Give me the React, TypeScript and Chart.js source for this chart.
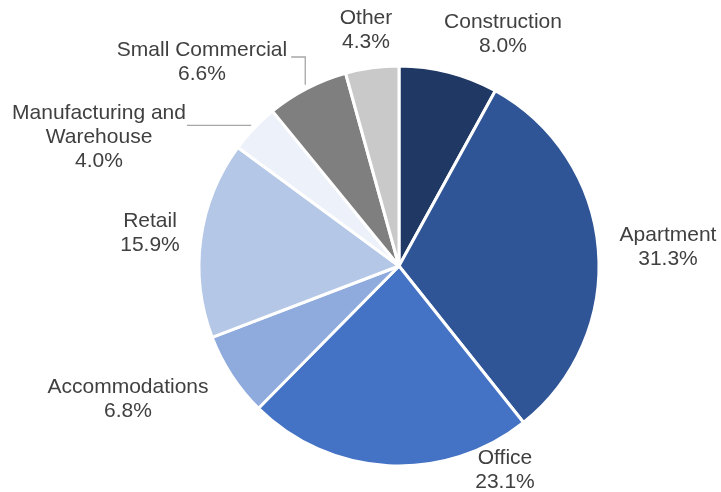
import React, { useEffect, useRef } from "react";
import { Chart, registerables } from "chart.js";

Chart.register(...registerables);

const categories = [
  "Construction",
  "Apartment",
  "Office",
  "Accommodations",
  "Retail",
  "Manufacturing and Warehouse",
  "Small Commercial",
  "Other",
];
const shares = [8.0, 31.3, 23.1, 6.8, 15.9, 4.0, 6.6, 4.3];
const labelLines = [
  ["Construction"],
  ["Apartment"],
  ["Office"],
  ["Accommodations"],
  ["Retail"],
  ["Manufacturing and", "Warehouse"],
  ["Small Commercial"],
  ["Other"],
];
const colors = [
  "#203864",
  "#2F5597",
  "#4472C4",
  "#8FAADC",
  "#B4C7E7",
  "#EDF1FA",
  "#7F7F7F",
  "#C9C9C9",
];

// layout: label block centre relative to pie centre (px), and leader style
const labelOffsets: [number, number][] = [
  [104, -231.5],
  [269, -19],
  [106, 204.5],
  [-271, 133],
  [-249, -33],
  [-300, -129],
  [-197, -204],
  [-33, -235.5],
];
const leaderKind = ["", "", "", "", "", "h", "elbow", ""];

const FONT = '21px "Liberation Sans", Arial, sans-serif';
const LINE_H = 24;

const labelPlugin = {
  id: "outerLabels",
  afterDraw(chart: any) {
    const ctx = chart.ctx;
    const meta = chart.getDatasetMeta(0);
    ctx.save();
    ctx.font = FONT;
    ctx.fillStyle = "#404040";
    ctx.textAlign = "center";
    ctx.textBaseline = "middle";
    meta.data.forEach((arc: any, i: number) => {
      const { x, y, startAngle, endAngle, outerRadius } = arc.getProps(
        ["x", "y", "startAngle", "endAngle", "outerRadius"],
        true
      );
      const lines = [...labelLines[i], shares[i].toFixed(1) + "%"];
      const cx = x + labelOffsets[i][0];
      const cy = y + labelOffsets[i][1];
      const top = cy - ((lines.length - 1) * LINE_H) / 2;
      let maxW = 0;
      lines.forEach((t, k) => {
        ctx.fillText(t, cx, top + k * LINE_H);
        maxW = Math.max(maxW, ctx.measureText(t).width);
      });
      const kind = leaderKind[i];
      if (kind) {
        const mid = (startAngle + endAngle) / 2;
        const px = x + Math.cos(mid) * (outerRadius + 4);
        const py = y + Math.sin(mid) * (outerRadius + 4);
        const right = cx + maxW / 2;
        ctx.strokeStyle = "#A6A6A6";
        ctx.lineWidth = 1.3;
        ctx.beginPath();
        if (kind === "h") {
          ctx.moveTo(right + 1, py);
          ctx.lineTo(px, py);
        } else {
          const ey = top + 7;
          ctx.moveTo(right + 4, ey);
          ctx.lineTo(px, ey);
          ctx.lineTo(px, py);
        }
        ctx.stroke();
      }
    });
    ctx.restore();
  },
};

export default function App() {
  const ref = useRef<HTMLCanvasElement | null>(null);
  useEffect(() => {
    if (!ref.current) return;
    const chart = new Chart(ref.current, {
      type: "pie",
      data: {
        labels: categories,
        datasets: [
          {
            data: shares,
            backgroundColor: colors,
            borderColor: "#FFFFFF",
            borderWidth: 3,
          },
        ],
      },
      options: {
        animation: false,
        responsive: false,
        maintainAspectRatio: false,
        devicePixelRatio: 1,
        layout: {
          padding: { left: 197.5, right: 120.5, top: 64.5, bottom: 24.5 },
        },
        plugins: {
          legend: { display: false },
          tooltip: { enabled: false },
        },
      },
      plugins: [labelPlugin],
    });
    return () => chart.destroy();
  }, []);
  return (
    <div style={{ position: "absolute", left: 0, top: 0, width: 721, height: 492, background: "#fff" }}>
      <canvas ref={ref} width={721} height={492} style={{ width: 721, height: 492 }} />
    </div>
  );
}
